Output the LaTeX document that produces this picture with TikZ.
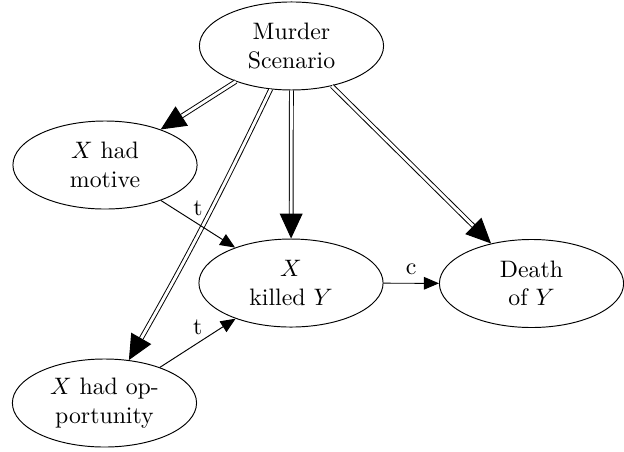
\documentclass[tikz,border=0pt]{standalone}
\usepackage{tikz}
\usetikzlibrary{shapes.geometric, arrows.meta}

\begin{document}
\begin{tikzpicture}[
  state/.style={ellipse, draw, minimum width=2.72cm, minimum height=1.3cm, inner sep=0pt, align=center},
  cause/.style={double, double distance=1.2pt, -{Triangle[length=10.5pt,width=9.6pt]}},
  link/.style={-{Triangle[length=6.3pt,width=5.3pt]}}]
  \useasboundingbox (0,0) rectangle (9.216,6.661);

  \node[state] (scenario) at (4.305,5.982) {Murder\\Scenario};
  \node[state] (motive) at (1.551,4.224) {$X$ had\\motive};
  \node[state] (killed) at (4.298,2.481) {$X$\\killed $Y$};
  \node[state] (death) at (7.850,2.474) {Death\\of $Y$};
  \node[state] (opportunity) at (1.543,0.709) {$X$ had op-\\portunity};

  \draw[cause] (scenario) -- (motive);
  \draw[cause] (scenario) -- (killed);
  \draw[cause] (scenario) -- (death);
  \draw[cause] (scenario) to[bend left=2] (opportunity);

  \draw[link] (motive) -- node[midway, above] {t} (killed);
  \draw[link] (opportunity) -- node[midway, above] {t} (killed);
  \draw[link] (killed) -- node[midway, above] {c} (death);

  \end{tikzpicture}
\end{document}
